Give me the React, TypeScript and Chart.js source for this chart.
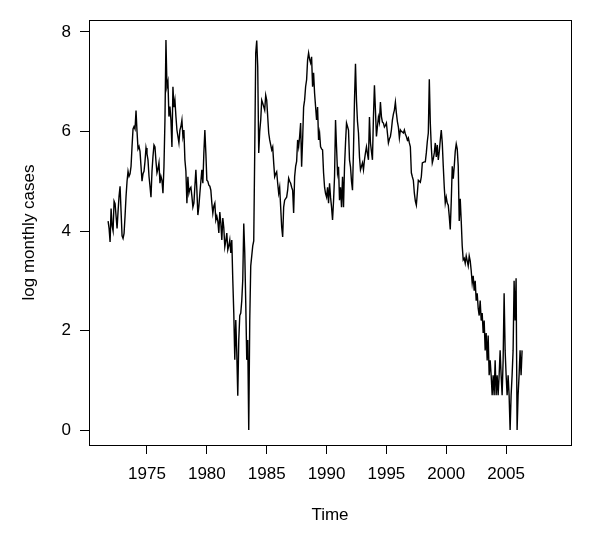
import React, { useEffect, useRef } from "react";
import { Chart, registerables } from "chart.js";

Chart.register(...registerables);

// Monthly series, starting October 1971 (log monthly cases)
const startYear = 1971;
const startMonth = 10;

const values1970s = [
  4.2, 4.05, 3.78,
  4.45, 4.1, 4.0, 4.6, 4.55, 4.3, 4.05, 4.4, 4.7, 4.9, 4.4, 3.9,
  3.85, 3.95, 4.3, 4.7, 5.0, 5.2, 5.1, 5.15, 5.3, 5.7, 6.05, 6.1,
  6.05, 6.42, 6.0, 5.65, 5.7, 5.6, 5.3, 5.0, 5.15, 5.2, 5.4, 5.67,
  5.55, 5.43, 5.1, 4.9, 4.68, 5.2, 5.5, 5.73, 5.69, 5.4, 5.17, 5.25,
  5.37, 4.96, 5.1, 5.02, 4.76, 5.29, 6.23, 7.84, 6.9, 7.0, 6.3, 6.5,
  6.23, 5.69, 6.9, 6.49, 6.63, 6.3, 6.03, 5.9, 5.77, 6.03, 6.1, 6.23,
  5.9, 6.03, 5.43, 5.2, 4.56, 5.09, 4.76, 4.85, 4.88, 4.7, 4.48, 4.56,
  4.9, 5.23, 4.82, 4.32, 4.5, 4.76, 5.0, 5.23, 4.96, 5.57, 6.03, 5.57,
];

const values1980s = [
  5.02, 5.0, 4.92, 4.9, 4.82, 4.56, 4.36, 4.5, 4.56, 4.22, 4.3, 4.2,
  3.96, 4.38, 4.16, 3.82, 4.26, 4.06, 3.68, 3.8, 3.96, 3.62, 3.7, 3.82,
  3.56, 3.82, 3.02, 2.35, 1.41, 2.21, 1.55, 0.69, 1.81, 2.3, 2.35, 2.6,
  3.02, 4.15, 3.56, 2.55, 1.41, 1.81, 0.0, 2.2, 3.3, 3.5, 3.7, 3.8,
  5.6, 7.58, 7.83, 7.3, 5.57, 6.0, 6.23, 6.63, 6.57, 6.5, 6.43, 6.73,
  6.63, 6.3, 5.97, 5.83, 5.73, 5.63, 5.69, 5.37, 5.09, 5.15, 5.19, 4.96,
  4.76, 4.88, 4.48, 4.08, 3.88, 4.48, 4.62, 4.65, 4.68, 4.82, 5.06, 5.0,
  4.96, 4.88, 4.82, 4.36, 5.09, 5.3, 5.4, 5.83, 5.69, 5.9, 6.17, 5.29,
  5.83, 6.49, 6.63, 6.9, 7.04, 7.44, 7.58, 7.45, 7.38, 7.5, 6.9, 7.18,
  6.77, 6.5, 6.23, 6.49, 5.83, 5.97, 5.69, 5.65, 5.63, 5.17, 4.88, 4.75,
];

const values1990s = [
  4.68, 4.88, 4.56, 4.96, 4.68, 4.48, 4.22, 4.6, 5.09, 6.23, 5.69, 5.17,
  5.29, 4.62, 4.88, 4.48, 5.09, 4.48, 5.29, 5.77, 6.17, 6.1, 6.03, 5.43,
  5.29, 5.0, 4.82, 5.63, 6.63, 7.36, 6.63, 6.2, 5.97, 5.49, 5.23, 5.3,
  5.37, 5.23, 5.43, 5.57, 5.69, 5.55, 5.43, 6.29, 5.77, 5.6, 5.43, 6.29,
  6.93, 6.43, 5.9, 6.1, 6.29, 6.19, 6.59, 6.3, 6.19, 6.17, 6.09, 6.12,
  6.17, 5.97, 5.77, 5.85, 5.9, 6.03, 6.23, 6.35, 6.43, 6.59, 6.37, 6.2,
  6.09, 5.87, 6.03, 6.0, 5.99, 5.97, 6.03, 5.95, 5.9, 5.83, 5.87, 5.77,
  5.69, 5.17, 5.09, 5.02, 4.76, 4.6, 4.52, 4.76, 5.02, 5.0, 4.98, 5.09,
  5.37, 5.38, 5.39, 5.39, 5.57, 5.8, 5.97, 7.05, 6.17, 5.69, 5.37, 5.45,
  5.57, 5.77, 5.49, 5.73, 5.43, 5.6, 5.83, 6.03, 5.77, 5.3, 4.88, 4.56,
];

const values2000s = [
  4.68, 4.56, 4.52, 4.3, 4.03, 4.6, 5.3, 5.05, 5.3, 5.6, 5.75, 5.65,
  5.3, 4.2, 4.65, 4.2, 3.7, 3.42, 3.45, 3.35, 3.5, 3.4, 3.3, 3.5,
  3.4, 3.2, 2.95, 3.1, 2.8, 3.0, 2.6, 2.75, 2.45, 2.3, 2.6, 2.2,
  2.35, 1.95, 2.2, 1.6, 1.95, 1.4, 1.9, 1.1, 1.4, 1.1, 0.7, 1.1,
  0.7, 1.4, 0.7, 1.1, 0.7, 1.1, 1.6, 1.1, 0.7, 1.4, 2.75, 1.6,
  1.1, 0.7, 1.1, 0.7, 0.0, 0.7, 1.1, 1.6, 3.0, 2.2, 3.05, 0.0,
  0.7, 1.1, 1.6, 1.1, 1.6,
];

const xTickYears = [1975, 1980, 1985, 1990, 1995, 2000, 2005];
const yTickValues = [0, 2, 4, 6, 8];

const xLabel = "Time";
const yLabel = "log monthly cases";

const FONT = "'Liberation Sans', Arial, Helvetica, sans-serif";

const boxPlugin = {
  id: "rBox",
  afterDraw(chart: any) {
    const { ctx, chartArea } = chart;
    const { left, top, right, bottom } = chartArea;
    ctx.save();
    ctx.strokeStyle = "#000";
    ctx.lineWidth = 1;
    ctx.strokeRect(
      Math.round(left) + 0.5,
      Math.round(top) + 0.5,
      Math.round(right) - Math.round(left),
      Math.round(bottom) - Math.round(top)
    );
    ctx.restore();
  },
};

export default function App() {
  const canvasRef = useRef<HTMLCanvasElement | null>(null);

  useEffect(() => {
    const canvas = canvasRef.current;
    if (!canvas) return;

    const series = [...values1970s, ...values1980s, ...values1990s, ...values2000s];
    const t0 = startYear + (startMonth - 1) / 12;
    const points = series.map((v, i) => ({ x: t0 + i / 12, y: v }));

    const chart = new Chart(canvas, {
      type: "line",
      data: {
        datasets: [
          {
            data: points,
            borderColor: "#000",
            borderWidth: 1.4,
            pointRadius: 0,
            fill: false,
            tension: 0,
          },
        ],
      },
      plugins: [boxPlugin],
      options: {
        animation: false,
        responsive: false,
        devicePixelRatio: 1,
        layout: { padding: { left: 0, right: 29, top: 20, bottom: 0 } },
        plugins: {
          legend: { display: false },
          tooltip: { enabled: false },
        },
        scales: {
          x: {
            type: "linear",
            min: 1970.155,
            max: 2010.42,
            afterBuildTicks: (scale: any) => {
              scale.ticks = xTickYears.map((v) => ({ value: v }));
            },
            afterFit: (scale: any) => {
              scale.height = 93;
            },
            grid: {
              drawOnChartArea: false,
              drawTicks: true,
              tickLength: 9,
              color: "#000",
              lineWidth: 1,
            },
            border: { display: false },
            ticks: {
              autoSkip: false,
              maxRotation: 0,
              padding: 10,
              color: "#000",
              font: { family: FONT, size: 17 },
              callback: (v: any) => String(v),
            },
            title: {
              display: true,
              text: xLabel,
              color: "#000",
              font: { family: FONT, size: 17 },
              padding: { top: 0, bottom: 12 },
            },
          },
          y: {
            type: "linear",
            min: -0.3015,
            max: 8.2412,
            afterBuildTicks: (scale: any) => {
              scale.ticks = yTickValues.map((v) => ({ value: v }));
            },
            afterFit: (scale: any) => {
              scale.width = 89;
            },
            grid: {
              drawOnChartArea: false,
              drawTicks: true,
              tickLength: 9,
              color: "#000",
              lineWidth: 1,
            },
            border: { display: false },
            ticks: {
              autoSkip: false,
              padding: 9,
              color: "#000",
              font: { family: FONT, size: 17 },
              callback: (v: any) => String(v),
            },
            title: {
              display: true,
              text: yLabel,
              color: "#000",
              font: { family: FONT, size: 17 },
              padding: { top: 19, bottom: 0 },
            },
          },
        },
      },
    });

    return () => {
      chart.destroy();
    };
  }, []);

  return (
    <div
      style={{
        position: "fixed",
        left: 0,
        top: 0,
        width: 600,
        height: 538,
        background: "#fff",
      }}
    >
      <canvas ref={canvasRef} width={600} height={538} />
    </div>
  );
}
